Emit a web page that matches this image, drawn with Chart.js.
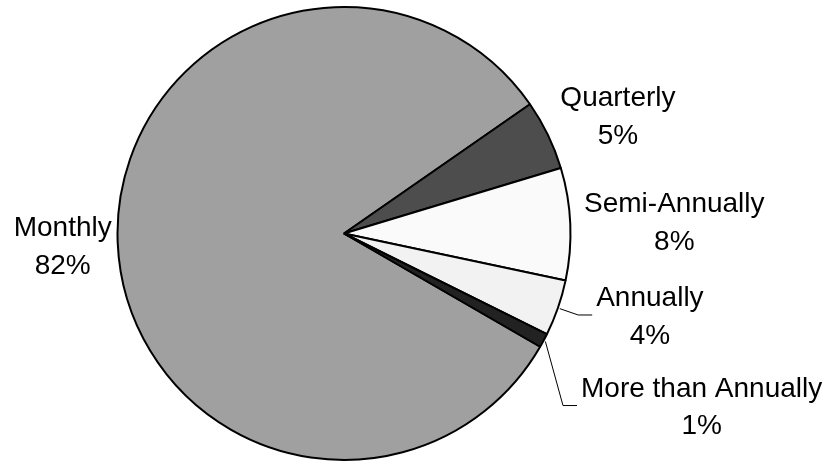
<!DOCTYPE html>
<html>
<head>
<meta charset="utf-8">
<script src="https://cdn.jsdelivr.net/npm/chart.js@4"></script>
<style>
  html, body { margin: 0; padding: 0; background: #fff; }
  canvas { display: block; }
</style>
</head>
<body>
<canvas id="freqChart" width="831" height="463"></canvas>
<script>
const categories = ['Monthly', 'Quarterly', 'Semi-Annually', 'Annually', 'More than Annually'];
const shares = [82, 5, 8, 4, 1];
const sliceColors = ['#a0a0a0', '#4d4d4d', '#fafafa', '#f2f2f2', '#222222'];

// where each label block sits, relative to the slice's outer edge at mid angle
const labelOffsets = [[-55, 2], [70, -20], [104, -3], [92, 7], [158, 65]];
const hasLeader = [false, false, false, true, true];

const FONT = '28px "Liberation Sans", Arial, sans-serif';
const LINE_GAP = 37.5;

const sliceLabels = {
  id: 'sliceLabels',
  afterDatasetsDraw(chart) {
    const ctx = chart.ctx;
    const arcs = chart.getDatasetMeta(0).data;
    ctx.save();
    ctx.font = FONT;
    ctx.fillStyle = '#000';
    ctx.strokeStyle = '#000';
    ctx.lineWidth = 1;
    ctx.textAlign = 'center';
    ctx.textBaseline = 'alphabetic';
    arcs.forEach((arc, i) => {
      const mid = (arc.startAngle + arc.endAngle) / 2;
      const r = arc.outerRadius;
      const ax = arc.x + Math.cos(mid) * r;
      const ay = arc.y + Math.sin(mid) * r;
      const cx = ax + labelOffsets[i][0];
      const cy = ay + labelOffsets[i][1];
      const line1 = categories[i];
      const line2 = shares[i] + '%';
      ctx.fillText(line1, cx, cy - LINE_GAP / 2 + 10);
      ctx.fillText(line2, cx, cy + LINE_GAP / 2 + 10);

      if (hasLeader[i]) {
        const left = cx - ctx.measureText(line1).width / 2;
        ctx.beginPath();
        ctx.moveTo(arc.x + Math.cos(mid) * (r + 2), arc.y + Math.sin(mid) * (r + 2));
        ctx.lineTo(left - 18, cy);
        ctx.lineTo(left - 4, cy);
        ctx.stroke();
      }
    });
    ctx.restore();
  }
};

new Chart(document.getElementById('freqChart'), {
  type: 'pie',
  data: {
    labels: categories,
    datasets: [{
      data: shares,
      backgroundColor: sliceColors,
      borderColor: '#000',
      borderWidth: 2
    }]
  },
  options: {
    responsive: false,
    animation: false,
    rotation: 120,
    layout: {
      padding: { left: 116, right: 259, top: 6, bottom: 2 }
    },
    plugins: {
      legend: { display: false },
      tooltip: { enabled: false }
    }
  },
  plugins: [sliceLabels]
});
</script>
</body>
</html>
